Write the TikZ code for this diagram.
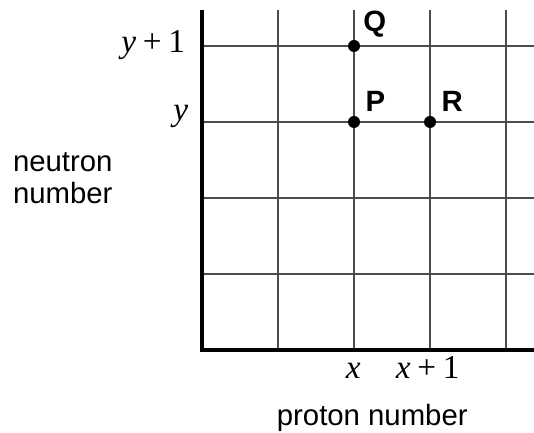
\documentclass[tikz,border=0pt]{standalone}
\usepackage{fontspec}
\setmainfont{Liberation Sans}
\newfontfamily\serifmath{Liberation Serif}
\usetikzlibrary{positioning}

\begin{document}
\begin{tikzpicture}[x=57pt, y=57pt,
  gridline/.style={draw=black!70, line width=1pt},
  axisline/.style={line width=2.3pt},
  dot/.style={circle, fill=black, inner sep=0pt, minimum size=9pt},
  ptlabel/.style={font=\fontsize{22}{24}\selectfont\bfseries, inner sep=0pt},
  ticklabel/.style={font=\fontsize{25}{30}\serifmath, inner sep=0pt,
    text height=0.7em, text depth=0.22em},
  axislabel/.style={font=\fontsize{22}{24}\selectfont, inner sep=0pt, align=left}]
  \useasboundingbox (-2.658,-1.079) rectangle (4.368,4.605);
  % grid
  \foreach \i in {1,...,4}{
    \draw[gridline] (\i,0) -- (\i,4.47);
    \draw[gridline] (0,\i) -- (4.37,\i);
  }
  % axes
  \draw[axisline] (0,4.47) -- (0,0) -- (4.37,0);
  % nuclides
  \node[dot] (P) at (2,3) {};
  \node[dot] (Q) at (2,4) {};
  \node[dot] (R) at (3,3) {};
  \node[ptlabel, above right=0.08 and 0.09 of P] (Plbl) {P};
  \node[ptlabel, above right=0.05 and 0.06 of Q] (Qlbl) {Q};
  \node[ptlabel, above right=0.08 and 0.09 of R] (Rlbl) {R};
  % tick labels
  \node[ticklabel, anchor=east] (yone) at (-0.22,3.95) {\textit{y}\hspace{0.2em}+\hspace{0.2em}1};
  \node[ticklabel, anchor=east] (ylbl) at (-0.18,3.06) {\textit{y}};
  \node[ticklabel] (xlbl) at (1.99,-0.33) {\textit{x}};
  \node[ticklabel] (xone) at (2.97,-0.33) {\textit{x}\hspace{0.2em}+\hspace{0.2em}1};
  % axis titles
  \node[axislabel, anchor=base] (proton) at (2.24,-0.99) {proton number};
  \node[axislabel, anchor=west] (neutron) at (-2.49,2.26) {neutron\\number};
\end{tikzpicture}
\end{document}
